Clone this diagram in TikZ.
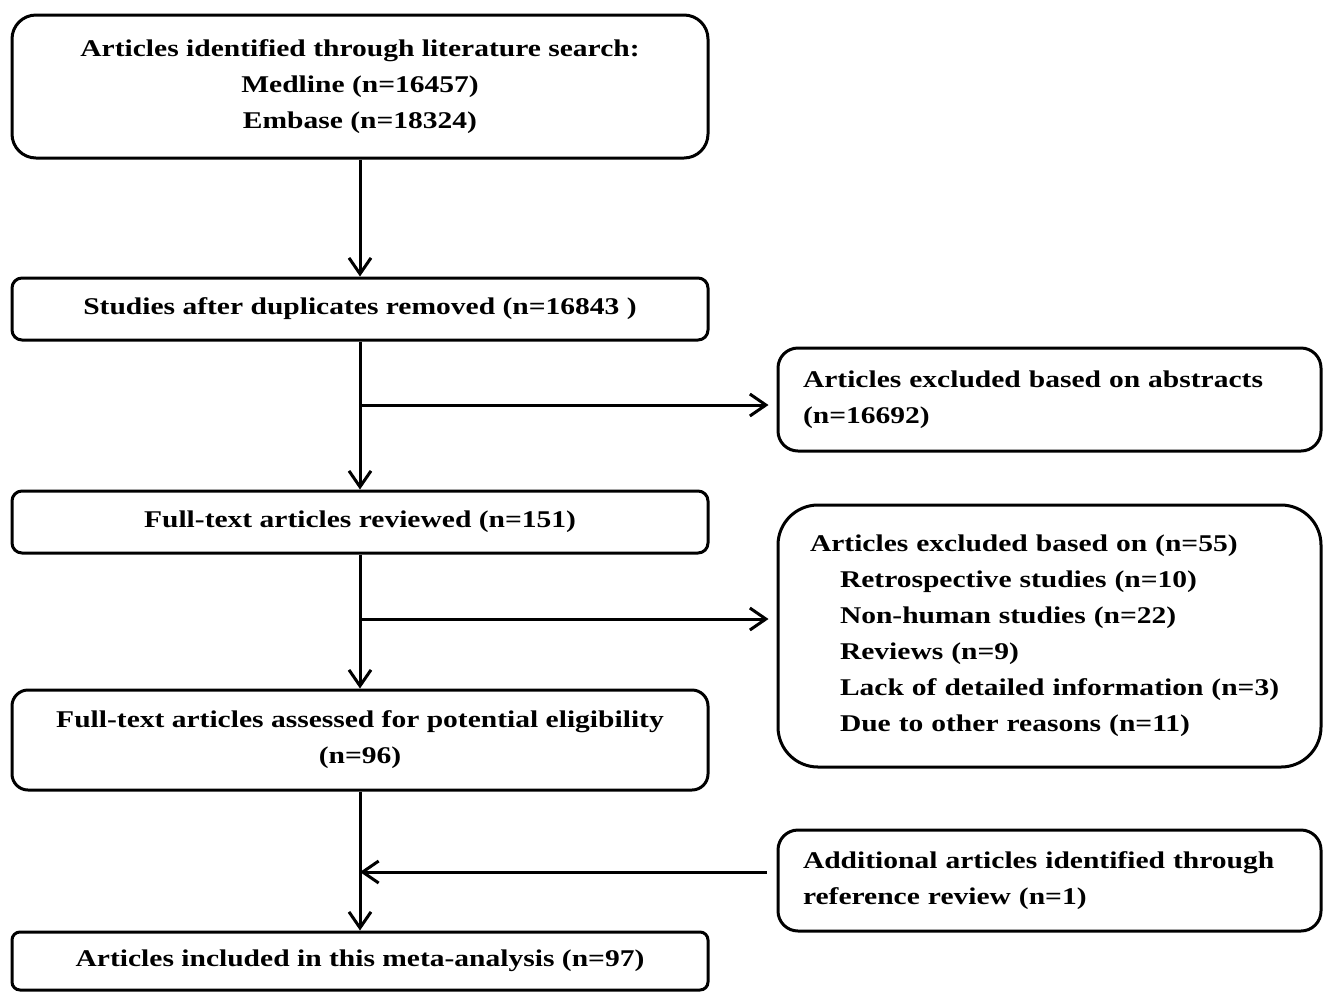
\documentclass[tikz,border=0pt]{standalone}
\usepackage{fontspec}
\setmainfont{Liberation Serif}[FakeStretch=1.23]
\usetikzlibrary{arrows.meta}
\begin{document}
\begin{tikzpicture}[x=0.5pt,y=-0.5pt,
  box/.style={draw, line width=1.5pt, font=\fontsize{12}{18}\selectfont\bfseries, align=center, inner sep=0pt},
  lbox/.style={box, minimum width=348pt},
  rbox/.style={box, align=left, inner xsep=12.5pt, text width=246.5pt},
  arr/.style={line width=1.5pt, -{Straight Barb[length=8pt,width=11pt,line width=1.5pt]}}]
\useasboundingbox (0,0) rectangle (1323,992);
\node[lbox, minimum height=71.5pt, rounded corners=12pt] (b1) at (360,86.5)
  {\raisebox{-1.5pt}{Articles identified through literature search:}\\\raisebox{-1.5pt}{Medline (n=16457)}\\\raisebox{-1.5pt}{Embase (n=18324)}};
\node[lbox, minimum height=31pt, rounded corners=5pt] (b2) at (360,309)
  {Studies after duplicates removed (n=16843 )};
\node[rbox, minimum height=51.5pt, rounded corners=10pt] (b3) at (1049.5,399.5)
  {Articles excluded based on abstracts\\(n=16692)};
\node[lbox, minimum height=31pt, rounded corners=5pt] (b4) at (360,522)
  {Full-text articles reviewed (n=151)};
\node[box, align=left, inner xsep=16pt, text width=239.5pt, minimum height=131pt, rounded corners=20pt] (b5) at (1049.5,636)
  {Articles excluded based on (n=55)\\
   \hspace*{15pt}Retrospective studies (n=10)\\
   \hspace*{15pt}Non-human studies (n=22)\\
   \hspace*{15pt}Reviews (n=9)\\
   \hspace*{15pt}Lack of detailed information (n=3)\\
   \hspace*{15pt}Due to other reasons (n=11)};
\node[lbox, minimum height=50pt, rounded corners=8pt] (b6) at (360,740)
  {Full-text articles assessed for potential eligibility\\(n=96)};
\node[rbox, minimum height=50.5pt, rounded corners=10pt] (b7) at (1049.5,880.5)
  {Additional articles identified through\\reference review (n=1)};
\node[lbox, minimum height=29pt, rounded corners=4pt] (b8) at (360,961)
  {Articles included in this meta-analysis (n=97)};
\coordinate (j1) at (360,405);
\coordinate (j2) at (360,619);
\coordinate (j3) at (360,872);
\draw[arr] (b1) -- (b2);
\draw[arr] (b2) -- (b4);
\draw[arr] (j1) -- (j1 -| b3.west) [shorten >=4pt];
\draw[arr] (b4) -- (b6);
\draw[arr] (j2) -- (j2 -| b5.west) [shorten >=4pt];
\draw[arr] (b6) -- (b8);
\draw[arr, shorten <=5pt] (j3 -| b7.west) -- (j3);
\end{tikzpicture}
\end{document}
